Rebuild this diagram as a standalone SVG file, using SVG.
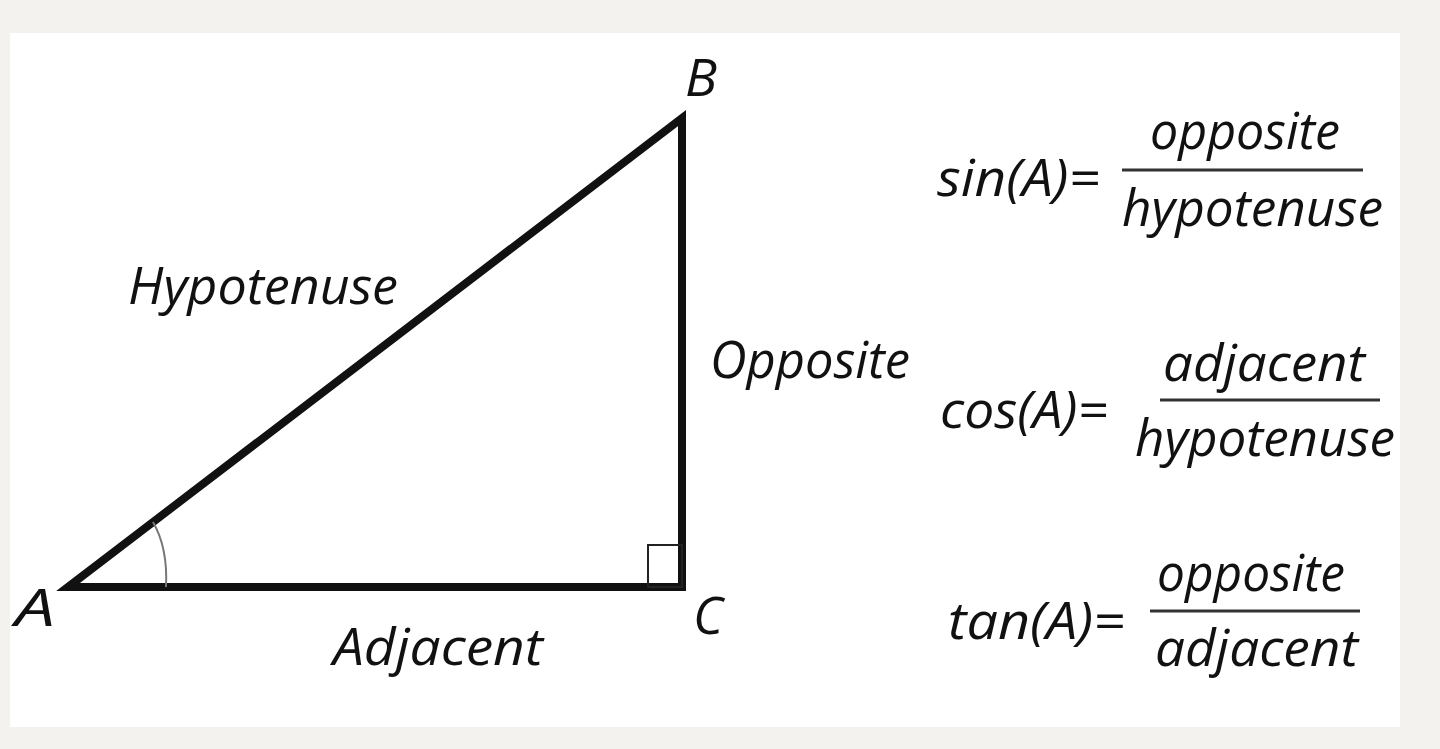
<svg xmlns="http://www.w3.org/2000/svg" width="1440" height="749" viewBox="0 0 1440 749">
<style>
.t{font-family:"Open Sans","DejaVu Sans",sans-serif;font-style:italic;font-weight:500;font-size:52px;fill:#111}
.s{fill:none;stroke:#111;stroke-width:8;stroke-linejoin:miter}
.thin{fill:none;stroke:#222;stroke-width:2}
.arc{fill:none;stroke:#777;stroke-width:2}
.frac{stroke:#333;stroke-width:3}
</style>
<rect x="0" y="0" width="1440" height="749" fill="#f4f2ee"/>
<rect x="10" y="33" width="1390" height="694" fill="#ffffff"/>
<g id="triangle">
<path class="s" d="M68 587 L682 118 L682 587 Z"/>
<rect class="thin" x="648" y="545" width="34" height="42"/>
<path class="arc" d="M153 522 Q168 548 166 587"/>
</g>
<g id="labels">
<text class="t" x="15" y="626" textLength="40" lengthAdjust="spacingAndGlyphs">A</text>
<text class="t" x="685" y="96" textLength="32" lengthAdjust="spacingAndGlyphs">B</text>
<text class="t" x="693" y="634" textLength="30" lengthAdjust="spacingAndGlyphs">C</text>
<text class="t" x="128" y="304" textLength="270" lengthAdjust="spacingAndGlyphs">Hypotenuse</text>
<text class="t" x="710" y="378" textLength="200" lengthAdjust="spacingAndGlyphs">Opposite</text>
<text class="t" x="333" y="665" textLength="210" lengthAdjust="spacingAndGlyphs">Adjacent</text>
</g>
<g id="sin">
<text class="t" x="937" y="196" textLength="163" lengthAdjust="spacingAndGlyphs">sin(A)=</text>
<text class="t" x="1150" y="149" textLength="190" lengthAdjust="spacingAndGlyphs">opposite</text>
<line class="frac" x1="1122" y1="170" x2="1363" y2="170"/>
<text class="t" x="1122" y="226" textLength="261" lengthAdjust="spacingAndGlyphs">hypotenuse</text>
</g>
<g id="cos">
<text class="t" x="940" y="428" textLength="168" lengthAdjust="spacingAndGlyphs">cos(A)=</text>
<text class="t" x="1163" y="381" textLength="202" lengthAdjust="spacingAndGlyphs">adjacent</text>
<line class="frac" x1="1160" y1="400" x2="1380" y2="400"/>
<text class="t" x="1135" y="456" textLength="260" lengthAdjust="spacingAndGlyphs">hypotenuse</text>
</g>
<g id="tan">
<text class="t" x="948" y="639" textLength="177" lengthAdjust="spacingAndGlyphs">tan(A)=</text>
<text class="t" x="1157" y="591" textLength="188" lengthAdjust="spacingAndGlyphs">opposite</text>
<line class="frac" x1="1150" y1="611" x2="1360" y2="611"/>
<text class="t" x="1155" y="666" textLength="203" lengthAdjust="spacingAndGlyphs">adjacent</text>
</g>
</svg>
